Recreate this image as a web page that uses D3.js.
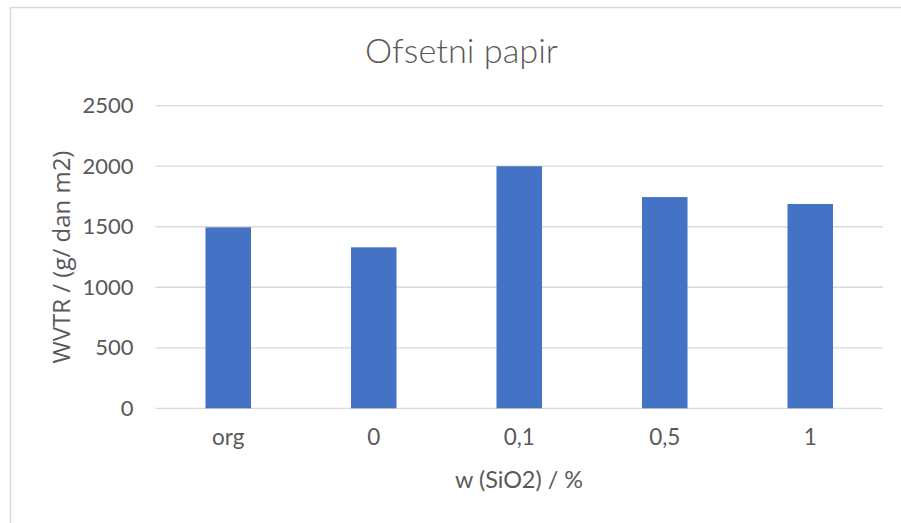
<!DOCTYPE html>
<meta charset="utf-8">
<style>
body { margin: 0; background: #fff; }
text { fill: #595959; font-family: Lato, "Open Sans", sans-serif; }
.grid line { stroke: #d9d9d9; stroke-width: 1.3px; }
</style>
<body>
<svg id="chart" width="901" height="523"></svg>
<script src="https://d3js.org/d3.v7.min.js"></script>
<script>

var categories = ["org", "0", "0,1", "0,5", "1"];
var wvtr = [1495, 1330, 2000, 1745, 1688];
var yTicks = [0, 500, 1000, 1500, 2000, 2500];

var titleText = "Ofsetni papir",
    xTitle = "w (SiO2) / %",
    yTitle = "WVTR / (g/ dan m2)";

var svg = d3.select("#chart");

// grow/shrink a text's font so it spans about the same width as in the screenshot
function fitWidth(sel, target) {
  var node = sel.node();
  var size = parseFloat(sel.style("font-size"));
  var w = node.getComputedTextLength();
  sel.style("font-size", (size * target / w).toFixed(2) + "px");
}

// outer chart frame (runs off the right and bottom edge like the screenshot)
svg.append("rect")
   .attr("x", 10.5).attr("y", 7.5)
   .attr("width", 1000).attr("height", 1000)
   .attr("fill", "none")
   .attr("stroke", "#d9d9d9")
   .attr("stroke-width", 1.5);

var x = d3.scaleBand()
          .domain(categories)
          .range([155.5, 883])
          .paddingInner(0.687)
          .paddingOuter(0.3435);

var y = d3.scaleLinear()
          .domain([0, 2500])
          .range([408.3, 105.7]);

// gridlines
svg.append("g")
   .attr("class", "grid")
   .selectAll("line")
   .data(yTicks)
   .enter().append("line")
   .attr("x1", 155.5).attr("x2", 883)
   .attr("y1", d => y(d)).attr("y2", d => y(d));

// bars
svg.append("g")
   .selectAll("rect")
   .data(wvtr)
   .enter().append("rect")
   .attr("x", (d, i) => x(categories[i]))
   .attr("width", x.bandwidth())
   .attr("y", d => y(d))
   .attr("height", d => y(0) - y(d))
   .attr("fill", "#4472c4");

// y axis labels
var yAxis = d3.axisLeft(y).tickValues(yTicks).tickFormat(d3.format("d"))
              .tickSize(0).tickPadding(22);
svg.append("g")
   .attr("transform", "translate(155.5,0)")
   .call(yAxis)
   .call(g => g.select(".domain").remove())
   .selectAll("text")
   .style("font-size", "22px")
   .style("font-family", "Lato, sans-serif")
   .attr("fill", "#595959");

// x axis labels
var xAxis = d3.axisBottom(x).tickSize(0).tickPadding(0);
svg.append("g")
   .attr("transform", "translate(0,429)")
   .call(xAxis)
   .call(g => g.select(".domain").remove())
   .selectAll("text")
   .style("font-size", "22.5px")
   .style("font-family", "Lato, sans-serif")
   .attr("fill", "#595959");

var t = svg.append("text")
   .attr("x", 461.5).attr("y", 63)
   .attr("text-anchor", "middle")
   .style("font-size", "31px")
   .style("font-weight", 300)
   .text(titleText);
fitWidth(t, 193);

var xt = svg.append("text")
   .attr("x", 519).attr("y", 488)
   .attr("text-anchor", "middle")
   .style("font-size", "20px")
   .text(xTitle);
fitWidth(xt, 128);

var yt = svg.append("text")
   .attr("transform", "translate(70,257) rotate(-90)")
   .attr("text-anchor", "middle")
   .style("font-size", "20px")
   .style("font-family", "'Open Sans', sans-serif")
   .text(yTitle);
fitWidth(yt, 213);

</script>
</body>
